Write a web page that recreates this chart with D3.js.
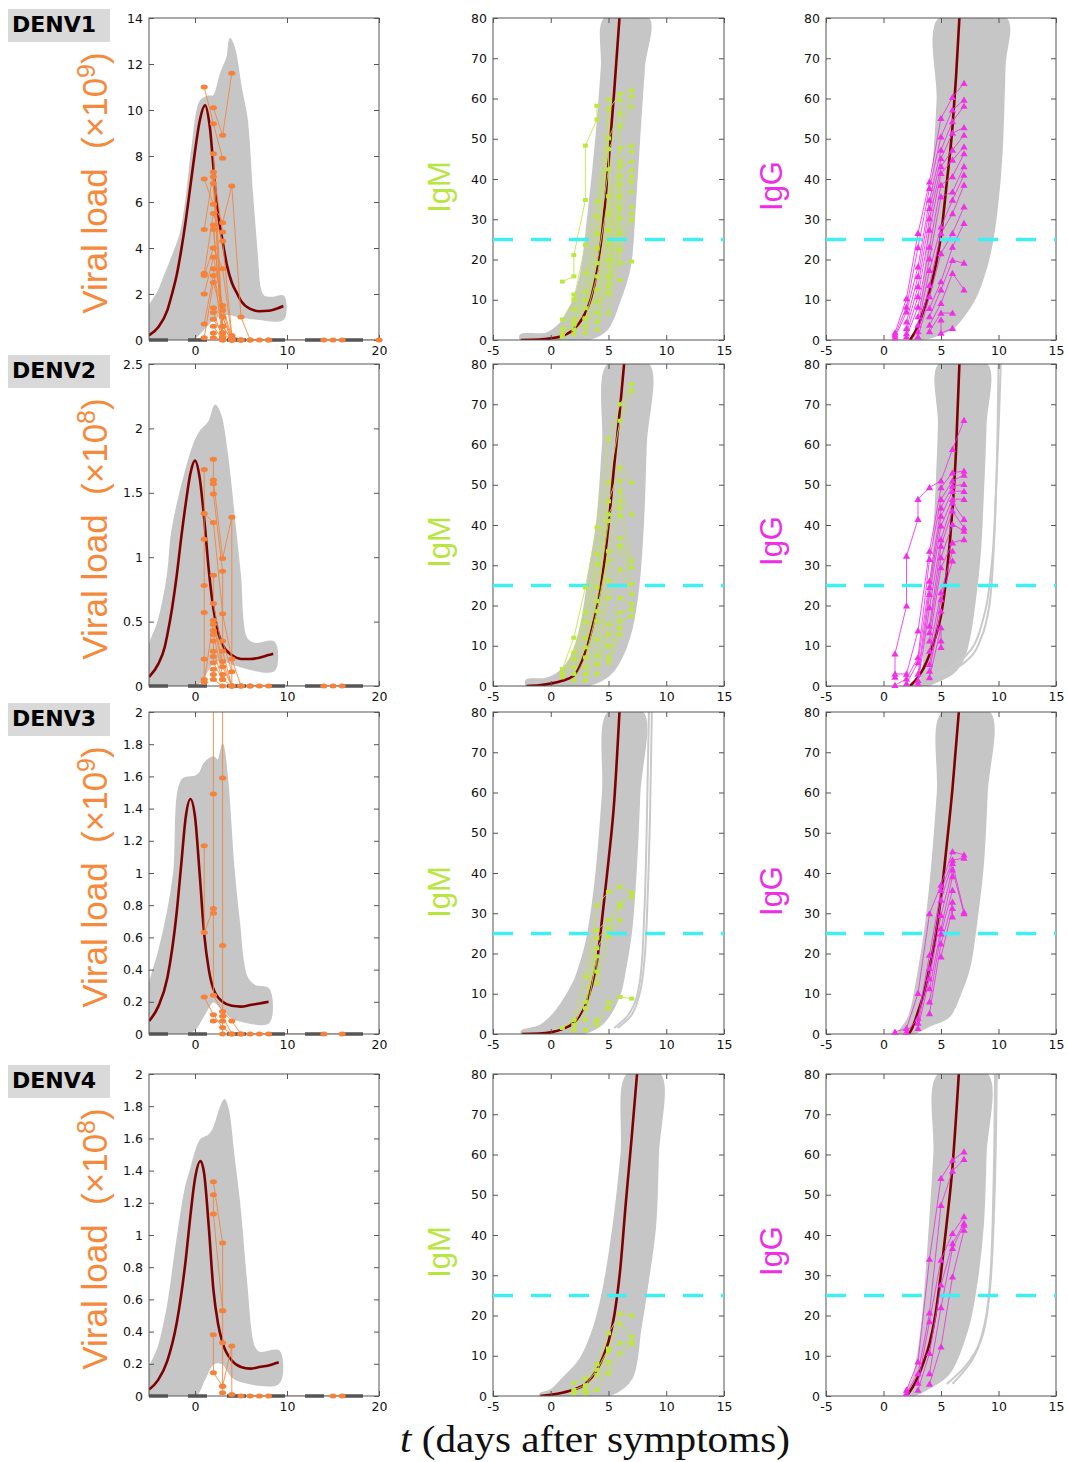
<!DOCTYPE html>
<html>
<head>
<meta charset="utf-8">
<script src="https://cdn.jsdelivr.net/npm/d3@7"></script>
<style>
  body { margin: 0; background: #fff; }
  svg text { font-family: "DejaVu Sans", sans-serif; }
</style>
</head>
<body>
<div id="chart"></div>
<script>
// ---- data ----
const serotypes = ['DENV1', 'DENV2', 'DENV3', 'DENV4'];
const viralMax = [14, 2.5, 2, 2];
const viralStep = [2, 0.5, 0.2, 0.2];
const viralExp = ['9', '8', '9', '8'];
const antibodyMax = 80;
const threshold = 25;

// mean viral load curve [t, v]
const viralMean = [
  [[-5,0.2],[-4,0.55],[-3,1.3],[-2.5,2.0],[-2,2.8],[-1.5,3.9],[-1,5.2],[-0.5,6.7],[0,8.2],[0.5,9.5],[1.1,10.2],[1.6,9.3],[2.3,6.1],[3,4.3],[3.5,3.2],[4,2.5],[4.6,2.0],[5,1.7],[6,1.35],[7,1.25],[8,1.27],[9,1.38],[9.6,1.48]],
  [[-5,0.07],[-4,0.17],[-3.3,0.3],[-3,0.4],[-2.5,0.6],[-2,0.85],[-1.5,1.15],[-1,1.42],[-0.5,1.65],[0,1.75],[0.5,1.62],[1,1.3],[1.5,0.9],[2,0.6],[2.5,0.42],[3,0.32],[4,0.24],[5,0.21],[6,0.21],[7,0.22],[8,0.24],[8.5,0.25]],
  [[-5,0.08],[-4,0.17],[-3,0.35],[-2,0.75],[-1.5,1.05],[-1,1.35],[-0.5,1.46],[0,1.35],[0.5,1.0],[1,0.62],[1.5,0.4],[2,0.28],[3,0.2],[4,0.175],[5,0.17],[6,0.18],[7,0.19],[8,0.2]],
  [[-5,0.04],[-4,0.1],[-3,0.22],[-2,0.45],[-1,0.85],[-0.5,1.12],[0,1.35],[0.6,1.46],[1,1.38],[1.5,1.05],[2,0.66],[2.5,0.45],[3,0.33],[4,0.22],[5,0.18],[6,0.17],[7,0.18],[8,0.19],[9.1,0.21]]
];
// simulated envelope: upper and lower edge [t, v]
const viralUpper = [
  [[-5,1.4],[-4,2.1],[-3.3,2.8],[-2.5,3.6],[-1.6,4.6],[-1,6],[-0.3,8.4],[0.6,10.4],[1.5,10.6],[2,10.6],[2.8,11.6],[3.5,12.3],[3.8,13.1],[4.1,12.9],[4.4,12.5],[5,11],[5.65,9.6],[6.2,6.5],[6.75,3.7],[7.1,2.2],[7.5,1.9],[8.5,1.85],[9.6,1.9]],
  [[-5,0.3],[-4,0.5],[-3,0.85],[-2.5,1.2],[-1.2,1.62],[0,1.9],[0.6,1.98],[1.5,2.05],[2.2,2.18],[2.8,2.1],[3.5,1.8],[4.2,1.35],[4.9,0.87],[5.6,0.37],[6.5,0.33],[8.6,0.34]],
  [[-5,0.29],[-4,0.5],[-3,0.75],[-2.3,1.0],[-1.4,1.58],[0,1.6],[0.5,1.62],[1,1.68],[2,1.72],[2.5,1.7],[3,1.8],[3.5,1.6],[4.2,1.04],[4.8,0.7],[5.6,0.36],[6.5,0.3],[8,0.28]],
  [[-5,0.16],[-4,0.3],[-3,0.55],[-2,0.95],[-1,1.3],[-0.5,1.4],[0.6,1.59],[1.5,1.62],[2,1.66],[2.7,1.78],[3.2,1.84],[3.6,1.78],[4.2,1.5],[4.9,1.16],[5.6,0.7],[6.4,0.31],[7,0.27],[9.1,0.28]]
];
const viralLower = [
  [[-5,0],[-1,0],[0,0.1],[1,0.5],[2,0.9],[3,1.1],[4,1.1],[5,1.0],[6,0.95],[7,0.9],[9.6,0.9]],
  [[-5,0],[0,0],[1,0.08],[2,0.18],[3,0.2],[4,0.17],[5,0.15],[6,0.13],[8.6,0.12]],
  [[-5,0],[-1,0],[0,0.03],[1,0.12],[2,0.2],[3,0.15],[4,0.1],[5,0.08],[8,0.07]],
  [[-5,0],[0,0],[1,0.1],[2,0.2],[3,0.2],[4,0.12],[5,0.09],[9.1,0.08]]
];
// patient viral load measurements, one array per patient
const viralObs = [
  [
    [[1,11.0],[2,9.4],[3,7.9]],
    [[2,10.1],[3,8.9],[4,11.6]],
    [[1,7.0],[2,5.9],[3,5.1],[4,6.7],[5,1.0],[6,0]],
    [[1,4.8],[2,7.3],[3,4.7]],
    [[1,2.9],[2,5.5],[3,4.3],[4,0.2],[5,0]],
    [[1,2.8],[2,4.0],[3,3.1],[4,0.1],[5,0],[7,0],[8,0]],
    [[1,2.0],[2,3.6],[3,1.5],[4,0.1]],
    [[1,0.7],[2,2.8],[3,1.3],[4,0]],
    [[1,0.1],[2,2.5],[3,1.0],[4,0]],
    [[2,8.1],[3,0.6],[4,0]],
    [[2,7.1],[3,0.3],[4,0]],
    [[2,6.8],[3,0.1]],
    [[2,5.0],[3,0.3]],
    [[2,4.8],[3,0.6],[4,0],[5,0],[6,0]],
    [[2,3.1],[3,0.1]],
    [[2,1.4],[3,1.0],[4,0]],
    [[2,1.2],[3,0.1]],
    [[2,0.9],[3,0.3]],
    [[2,0.6],[3,0],[5,0],[8,0],[14,0],[15,0],[16,0],[20,0]],
    [[2,0.3],[2,0.1],[3,0]]
  ],
  [
    [[1,1.68],[1,1.14],[1,0.78],[1,0.57],[1,0.21],[1,0.05]],
    [[1,1.34],[2,1.27],[3,0.56],[4,0.21],[5,0]],
    [[2,1.76],[2,1.6],[3,0.99],[4,1.31],[4,0],[5,0],[6,0]],
    [[2,1.57],[2,1.49],[3,0.89],[3,0.35],[4,0.11]],
    [[2,0.86],[2,0.64],[3,0.27],[4,0]],
    [[1,0.03],[2,0.51],[3,0.19],[4,0],[5,0],[6,0],[7,0],[8,0],[14,0],[15,0],[16,0]],
    [[2,0.48],[3,0.15],[4,0]],
    [[2,0.43],[2,0.4],[3,0.09]],
    [[2,0.35],[2,0.27],[3,0.05],[4,0]],
    [[2,0.23],[2,0.18],[3,0.05]],
    [[2,0.13],[2,0.09],[2,0.05],[3,0]]
  ],
  [
    [[1,1.17],[1,0.63],[2,0.78]],
    [[1,0.23],[2,0.12],[3,0.04],[4,0]],
    [[2,2.5],[2,1.49],[2,0.75],[2,0.24],[3,0.14],[4,0.08],[5,0]],
    [[3,2.5],[3,1.59],[3,0.55],[3,0.11],[4,0],[5,0],[6,0],[7,0],[8,0],[14,0],[16,0]],
    [[2,0.08],[3,0.08],[3,0]]
  ],
  [
    [[2,1.33],[3,0.95],[3,0.53],[3,0.33],[3,0.06],[3,0.02]],
    [[2,1.25],[2,1.13],[3,0.53]],
    [[2,0.38],[2,0.145],[3,0.06],[4,0.31],[4,0.01],[5,0],[6,0],[7,0],[8,0],[15,0],[16,0]]
  ]
];

// IgM: mean curve, envelope left/right edges, stray simulated curves, patients
const igmMean = [
  [[-2.6,0],[-1,0.1],[0,0.4],[1,1.0],[2,2.7],[3,6.8],[3.5,10.5],[4,17],[4.5,28],[5,44],[5.5,62],[5.95,80]],
  [[-2.1,0],[-1,0.15],[0,0.6],[1,1.3],[2,2.6],[3,8.5],[3.5,13.5],[4,19.8],[4.5,28],[5,40],[5.5,55],[6,69],[6.35,80]],
  [[-2.5,0],[-1,0.1],[0,0.4],[1,1.2],[2,2.8],[2.5,4.5],[3,7.2],[3.5,11.5],[4,18],[4.5,30],[5,43],[5.5,58],[5.95,80]],
  [[-0.9,0],[0,0.3],[1,0.8],[2,1.6],[3,3],[4,6.5],[4.5,9.5],[5,13.5],[5.5,20],[6,31],[6.5,48],[7,64],[7.47,80]]
];
const igmLeft = [
  [[-2.6,0],[-2.6,1.3],[-1,1.5],[-0.35,1.7],[0.8,4.1],[1.4,6.6],[1.95,9.9],[2.55,15.7],[3.25,31.5],[3.95,51],[4.4,67.7],[4.7,80]],
  [[-2.1,0],[-2.1,1.5],[-0.5,1.8],[0.5,3],[1.5,6],[2.0,9],[2.7,16.4],[3.3,28],[4.0,41],[4.5,60],[4.98,80]],
  [[-2.5,0],[-2.5,0.8],[-1,2],[0,4.3],[1,8],[2,13],[2.5,17],[3,22],[3.5,30],[4,42],[4.5,60],[5,80]],
  [[-0.9,0],[-0.9,0.6],[0,1.5],[1,4.3],[2.5,9],[3.7,16.9],[4.5,26],[5.4,42],[6.1,60],[6.65,80]]
];
const igmRight = [
  [[3.1,0],[4.84,2.5],[6.0,9.9],[6.87,18.2],[7.3,33],[7.7,51],[8.1,68],[8.45,80]],
  [[3.0,0],[4.5,1.5],[5.5,4],[6.3,8],[7,14],[7.6,24.5],[8,40],[8.25,60],[8.45,80]],
  [[2.6,0],[4,1.5],[5,4.3],[6,10],[6.5,16.7],[7,26],[7.4,41.6],[7.7,60],[7.95,80]],
  [[4,0],[5.4,0.5],[7,4.3],[7.8,16.9],[8.4,28],[9.05,42],[9.3,60],[9.45,80]]
];
const igmStray = [
  [],
  [],
  [[[5.5,1.5],[6.5,4],[7.3,8],[7.8,15],[8.1,30],[8.3,50],[8.5,80]],
   [[5.8,1.5],[6.8,4],[7.6,9],[8.1,18],[8.4,35],[8.6,55],[8.75,80]]],
  []
];
const igmObs = [
  [
    [[1,14.5],[2,15.8],[2,21.1],[3,34.8],[3,48.3],[4,54.8],[4,58.2]],
    [[1,5.1],[2,10.1],[3,23.6],[4,34.4],[5,57.3],[6,61.1],[7,62.0]],
    [[1,2.8],[2,7.6],[3,16.6],[4,30.7],[5,50.1],[6,56.3],[7,60.5]],
    [[1,1.6],[2,5.1],[3,12.0],[4,26.5],[5,47.4],[6,53.0],[7,58.0]],
    [[1,0.8],[2,3.9],[3,10.0],[4,22.8],[5,42.4],[6,47.6],[7,48.3]],
    [[2,2.6],[3,7.9],[4,19.1],[5,35.7],[6,44.3],[7,46.8]],
    [[2,1.4],[3,5.4],[4,15.8],[5,31.4],[6,43.0],[7,44.3]],
    [[2,11.3],[3,3.3],[4,12.5],[5,27.3],[6,40.6],[7,42.2]],
    [[3,1.7],[4,9.6],[5,24.0],[6,38.5],[7,40.6]],
    [[4,6.7],[5,19.8],[6,35.6],[7,39.3]],
    [[4,4.6],[5,15.8],[6,32.7],[7,36.8]],
    [[4,2.6],[5,13.6],[6,30.2],[7,33.1]],
    [[5,59.8],[5,11.6],[6,26.5],[7,31.4]],
    [[5,6.7],[6,22.4],[7,29.8]],
    [[6,59.6],[6,19.1],[7,19.5]],
    [[6,14.9]]
  ],
  [
    [[1,4.2],[2,12.0],[3,24.5],[4,39.4],[5,61.3],[6,70.0],[7,75.0]],
    [[1,3.0],[2,8.3],[3,18.3],[4,32.8],[5,50.5],[6,65.9],[7,73.3]],
    [[1,2.2],[2,6.7],[3,15.8],[4,30.3],[5,45.9],[6,54.3],[7,50.5]],
    [[2,4.6],[3,12.0],[4,24.5],[5,42.6],[6,48.5],[7,42.6]],
    [[2,3.0],[3,9.6],[4,21.1],[5,41.0],[6,45.9]],
    [[2,1.4],[3,7.1],[4,18.6],[5,33.5],[6,44.3],[7,31.1]],
    [[3,4.6],[4,16.1],[5,31.1],[6,36.8],[7,29.4]],
    [[3,3.0],[4,11.5],[5,26.1],[6,34.8],[7,25.3]],
    [[3,1.4],[4,7.5],[5,21.9],[6,29.0],[7,22.8]],
    [[4,5.4],[5,15.3],[6,21.9],[7,20.3]],
    [[4,3.0],[5,12.8],[6,18.3],[7,19.0]],
    [[5,9.9],[6,16.1],[7,17.4]],
    [[5,7.1],[6,14.5]],
    [[5,5.8],[6,12.8]],
    [[6,51.0],[6,42.2]]
  ],
  [
    [[1,1.5],[2,3.5],[3,14.3],[4,32.0],[5,35.3],[6,36.6],[7,35.1]],
    [[2,2.3],[3,8.0],[4,25.8],[5,28.3],[6,32.5],[7,34.1]],
    [[2,1.0],[3,6.4],[4,21.3],[5,26.3],[6,31.6]],
    [[3,3.5],[4,19.3],[4,15.5],[4,12.6],[5,24.2],[6,28.3]],
    [[3,1.0],[4,3.5],[4,2.3],[5,8.0],[5,6.4],[6,9.2],[7,8.8]],
    [[4,23.8],[5,26.3]]
  ],
  [
    [[2,3.2],[3,4.4],[4,7.9],[5,15.6],[6,20.5],[7,20.0]],
    [[2,1.5],[3,2.7],[4,6.5],[5,11.8],[6,18.0],[7,14.8]],
    [[2,0.7],[3,1.5],[4,5.2],[5,11.0],[6,13.1],[7,13.5]],
    [[3,0.7],[4,1.5],[5,8.5],[5,5.6],[6,10.6],[7,12.9]]
  ]
];

// IgG
const iggMean = [
  [[2.3,0],[3,3.5],[3.5,7.5],[4,12],[4.5,18],[5,26],[5.5,39],[6,53],[6.3,65],[6.6,80]],
  [[2.3,0],[3,2.2],[3.5,4.5],[4,7.8],[4.5,12],[5,17.5],[5.5,28],[6,44],[6.3,58],[6.6,80]],
  [[2.2,0],[2.5,1.5],[3,5.5],[3.5,10],[4,16.5],[4.5,24],[5,34],[5.5,47],[6,61],[6.55,80]],
  [[2,0],[2.5,2],[3,4.8],[3.5,8.5],[4,13],[4.5,20],[5,30.5],[5.5,43],[6,57],[6.55,80]]
];
const iggLeft = [
  [[2.3,0],[2.9,2],[3.3,9.9],[3.6,18],[3.9,26.5],[4.33,43],[4.68,59.6],[4.86,80]],
  [[2.3,0],[3.2,1.5],[3.57,12.4],[4.0,22],[4.29,33],[4.6,50],[4.8,65],[4.86,80]],
  [[1.3,0],[2.2,4.3],[3.1,16.7],[3.7,28],[4.2,41.6],[4.7,60],[5.15,80]],
  [[1.8,0],[2.55,4.3],[3.3,16.9],[4.0,42],[4.4,60],[4.8,80]]
];
const iggRight = [
  [[2.6,0],[4,0.5],[5,1.5],[6,2.8],[7,6],[8,10.5],[9,18.5],[9.5,25],[10,36],[10.3,47],[10.55,68],[10.65,80]],
  [[3.7,0],[5,1.5],[6.1,3.3],[7,7],[7.5,12.4],[8,22],[8.4,33],[8.7,50],[8.9,65],[8.97,80]],
  [[2.5,0],[4,2],[5.7,4.3],[6.7,10],[7.5,16.7],[8.1,28],[8.65,41.6],[9.0,60],[9.2,80]],
  [[2.5,0],[4,2],[5.7,5.5],[7.35,16.9],[8.1,28],[8.65,42],[8.9,60],[9.0,80]]
];
const iggStray = [
  [],
  [[[4,2],[6,4],[7.5,7],[8.5,12],[9.2,20],[9.6,35],[9.85,55],[10.0,80]],
   [[4,2.5],[6,5],[7.6,9],[8.7,17],[9.4,30],[9.8,50],[10.2,80]]],
  [],
  [[[5.5,3],[7,7],[8,11],[8.8,18],[9.3,30],[9.55,50],[9.7,80]],
   [[6,3],[7.5,8],[8.5,14],[9.2,25],[9.6,45],[9.85,80]]]
];
const iggObs = [
  [
    [[1,1.8],[2,10.3],[3,26.5],[4,39.3],[5,55.1],[6,60.3],[7,63.8]],
    [[1,1.2],[2,8.2],[3,23.0],[4,37.7],[5,50.5],[6,57.2],[7,59.6]],
    [[1,0.6],[2,7.0],[3,18.2],[4,34.8],[5,47.2],[6,54.3],[7,58.1]],
    [[2,4.5],[3,15.8],[4,32.7],[5,45.1],[6,51.4],[7,52.8]],
    [[2,2.9],[3,13.3],[4,30.2],[5,43.1],[6,47.2],[7,50.9]],
    [[2,1.6],[3,10.8],[4,27.3],[5,41.4],[6,44.7],[7,48.0]],
    [[2,0.8],[3,8.2],[4,23.1],[5,38.5],[6,40.6],[7,46.3]],
    [[3,5.8],[4,20.2],[5,35.6],[6,36.8],[7,43.1]],
    [[3,3.7],[4,17.3],[5,28.1],[6,34.8],[7,41.0]],
    [[3,2.1],[4,13.6],[5,26.5],[6,31.4],[7,38.5]],
    [[3,0.8],[4,10.8],[5,21.5],[6,26.5],[7,33.1]],
    [[4,7.9],[5,14.5],[6,23.1],[7,29.0]],
    [[4,5.8],[5,12.5],[6,19.8],[7,19.1]],
    [[4,3.7],[5,9.1],[6,16.6],[7,12.5]],
    [[4,2.1],[5,6.7],[6,6.7]],
    [[5,5.0],[5,1.7],[6,2.9]]
  ],
  [
    [[1,2.2],[1,8.0],[2,19.9],[2,32.3],[3,41.4],[3,46.4],[4,49.3],[5,51.0],[6,58.8],[7,66.0]],
    [[1,3.0],[2,3.0],[3,13.7],[4,33.5],[5,49.3],[6,53.0],[7,53.4]],
    [[1,0.2],[2,1.8],[3,7.1],[4,31.5],[5,46.4],[6,51.0],[7,52.4]],
    [[2,0.6],[3,5.8],[4,26.1],[5,44.3],[6,49.7],[7,50.1]],
    [[3,3.0],[4,24.5],[5,42.2],[6,48.4],[7,48.4]],
    [[3,1.4],[4,22.8],[5,39.8],[6,46.4],[7,46.4]],
    [[3,0.6],[4,19.5],[5,36.4],[6,45.5],[7,41.4]],
    [[4,14.9],[5,34.8],[6,43.5],[7,39.3]],
    [[4,13.3],[5,31.9],[6,40.2],[7,38.5]],
    [[4,11.2],[5,29.4],[6,35.6],[7,36.4]],
    [[4,8.7],[5,23.2],[6,33.5]],
    [[4,5.4],[5,21.5],[6,31.1]],
    [[4,3.7],[5,18.6]],
    [[4,2.1],[5,14.5],[5,11.2],[5,9.6]]
  ],
  [
    [[1,0.5],[2,1.4],[3,10.1],[4,29.9],[5,37.0],[6,45.3],[7,44.5]],
    [[2,0.5],[3,3.9],[4,19.6],[5,35.7],[6,43.2],[7,43.7]],
    [[3,2.7],[4,16.3],[5,33.3],[6,42.4],[7,30.3]],
    [[3,1.4],[4,13.8],[5,29.5],[6,40.8],[7,29.9]],
    [[4,11.3],[5,26.2],[6,39.1]],
    [[4,8.0],[5,24.9],[6,35.7]],
    [[4,5.1],[5,22.4],[6,32.8]],
    [[5,19.2],[6,31.2],[6,29.1]]
  ],
  [
    [[2,1.5],[3,8.5],[4,34.0],[5,54.1],[6,58.6],[7,60.7]],
    [[2,0.7],[3,5.6],[4,20.7],[5,47.4],[6,55.9],[7,58.8]],
    [[3,3.2],[4,18.5],[5,33.8],[6,40.4],[7,44.6]],
    [[3,1.5],[4,10.6],[5,27.6],[6,37.9],[7,42.9]],
    [[4,5.6],[5,22.0],[6,36.7],[7,42.5]],
    [[4,3.0],[5,12.2],[6,29.6],[7,41.2]]
  ]
];

// ---- layout ----
const W = 1068, H = 1462;
const rowTop = [18, 364, 712, 1074];
const panelH = 322;
const cols = { viral: [149, 379], igm: [493, 724], igg: [826, 1056] };
const labelShift = [8, 17, 19, 17];

const C = {
  env: '#c6c6c6', mean: '#800000', cyan: '#3ff0f2', base: '#555',
  orange: '#f5823a', green: '#bde73f', magenta: '#f030e6', frame: '#555'
};

const svg = d3.select('#chart').append('svg')
  .attr('width', W).attr('height', H);
const defs = svg.append('defs');

const fmt = d => String(+d.toFixed(1));

function panel(row, kind) {
  const [x0, x1] = cols[kind];
  const top = rowTop[row];
  const bottom = top + panelH;
  const isViral = kind === 'viral';
  const yMax = isViral ? viralMax[row] : antibodyMax;
  const x = d3.scaleLinear().domain(isViral ? [-5, 20] : [-5, 15]).range([x0, x1]);
  const y = d3.scaleLinear().domain([0, yMax]).range([bottom, top]);
  const line = d3.line().x(d => x(d[0])).y(d => y(d[1]));

  const id = `clip-${kind}-${row}`;
  defs.append('clipPath').attr('id', id).append('rect')
    .attr('x', x0).attr('y', top).attr('width', x1 - x0).attr('height', panelH);

  const g = svg.append('g').attr('class', `panel ${kind}`);
  const plot = g.append('g').attr('clip-path', `url(#${id})`);

  // envelope of simulated curves
  let outline, stray, mean, obs, col;
  if (isViral) {
    outline = viralUpper[row].concat(viralLower[row].slice().reverse());
    stray = [];
    mean = viralMean[row];
    obs = viralObs[row];
    col = C.orange;
  } else {
    const L = kind === 'igm' ? igmLeft : iggLeft;
    const R = kind === 'igm' ? igmRight : iggRight;
    outline = L[row].concat(R[row].slice().reverse());
    stray = (kind === 'igm' ? igmStray : iggStray)[row];
    mean = (kind === 'igm' ? igmMean : iggMean)[row];
    obs = (kind === 'igm' ? igmObs : iggObs)[row];
    col = kind === 'igm' ? C.green : C.magenta;
  }

  plot.append('path')
    .attr('d', d3.line().x(d => x(d[0])).y(d => y(d[1])).curve(d3.curveCatmullRomClosed.alpha(0.5))(outline))
    .attr('fill', C.env).attr('stroke', C.env).attr('stroke-width', 1.5);

  plot.selectAll('.stray').data(stray).join('path')
    .attr('class', 'stray')
    .attr('d', d3.line().x(d => x(d[0])).y(d => y(d[1])).curve(d3.curveMonotoneY))
    .attr('fill', 'none').attr('stroke', '#c9c9c9').attr('stroke-width', 2);

  // frame
  g.append('rect').attr('x', x0).attr('y', top).attr('width', x1 - x0).attr('height', panelH)
    .attr('fill', 'none').attr('stroke', C.frame).attr('stroke-width', 1);

  // axes, ticks pointing inward on all four sides
  const yTicks = d3.range(0, yMax + 1e-9, isViral ? viralStep[row] : 10);
  const xTicks = isViral ? [0, 10, 20] : [-5, 0, 5, 10, 15];
  const axes = [
    g.append('g').attr('transform', `translate(${x0},0)`)
      .call(d3.axisLeft(y).tickValues(yTicks).tickSize(-5).tickPadding(6).tickFormat(fmt)),
    g.append('g').attr('transform', `translate(${x1},0)`)
      .call(d3.axisRight(y).tickValues(yTicks).tickSize(-5).tickFormat('')),
    g.append('g').attr('transform', `translate(0,${bottom})`)
      .call(d3.axisBottom(x).tickValues(xTicks).tickSize(-5).tickPadding(6).tickFormat(d => String(d))),
    g.append('g').attr('transform', `translate(0,${top})`)
      .call(d3.axisTop(x).tickValues(xTicks).tickSize(-5).tickFormat(''))
  ];
  axes.forEach(a => {
    a.attr('font-family', 'DejaVu Sans, sans-serif').attr('font-size', 12.5);
    a.select('.domain').remove();
    a.selectAll('line').attr('stroke', C.frame);
    a.selectAll('text').attr('fill', '#111');
  });

  if (isViral) {
    // undetectable level marked along zero
    g.append('line').attr('x1', x0).attr('x2', x1).attr('y1', y(0)).attr('y2', y(0))
      .attr('stroke', C.base).attr('stroke-width', 3.5).attr('stroke-dasharray', '19,20');
  } else {
    g.append('line').attr('x1', x0).attr('x2', x1).attr('y1', y(threshold)).attr('y2', y(threshold))
      .attr('stroke', C.cyan).attr('stroke-width', 3.5).attr('stroke-dasharray', '20,18');
  }

  plot.append('path').attr('d', line.curve(d3.curveMonotoneX)(mean))
    .attr('fill', 'none').attr('stroke', C.mean).attr('stroke-width', 2.6);

  // patients: lines then markers
  const lineObs = d3.line().x(d => x(d[0])).y(d => y(d[1]));
  plot.selectAll('.obs').data(obs).join('path')
    .attr('class', 'obs')
    .attr('d', lineObs)
    .attr('fill', 'none').attr('stroke', col).attr('stroke-width', 1).attr('stroke-opacity', 0.85);

  const pts = obs.flat().filter(d => d[1] <= yMax);
  const mk = g.append('g').selectAll('.mk').data(pts).join(
    kind === 'viral' ? 'ellipse' : kind === 'igm' ? 'rect' : 'path');
  if (kind === 'viral') {
    mk.attr('cx', d => x(d[0])).attr('cy', d => y(d[1])).attr('rx', 3.6).attr('ry', 2.5);
  } else if (kind === 'igm') {
    mk.attr('x', d => x(d[0]) - 2.5).attr('y', d => y(d[1]) - 2).attr('width', 5).attr('height', 4);
  } else {
    mk.attr('d', d => `M${x(d[0])},${y(d[1]) - 3.5}l3.6,6.2h-7.2z`);
  }
  mk.attr('fill', col);
}

serotypes.forEach((name, row) => {
  ['viral', 'igm', 'igg'].forEach(kind => panel(row, kind));

  const top = rowTop[row];
  const mid = top + panelH / 2;

  svg.append('rect').attr('x', 8).attr('y', top - 9).attr('width', 102).attr('height', 33)
    .attr('fill', '#d9d9d9');
  svg.append('text').attr('x', 12).attr('y', top + 14)
    .attr('font-size', 22).attr('font-weight', 'bold').attr('fill', '#000')
    .text(name);

  const vl = svg.append('text')
    .attr('transform', `translate(107,${mid + 4}) rotate(-90)`)
    .attr('text-anchor', 'middle')
    .style('font-family', '"Liberation Sans", Arial, sans-serif')
    .style('font-size', '35px')
    .attr('fill', '#f68a3c');
  vl.append('tspan').text('Viral load\u00a0\u00a0(\u00d710');
  vl.append('tspan').attr('dy', -12).style('font-size', '25px').text(viralExp[row]);
  vl.append('tspan').attr('dy', 12).text(')');

  svg.append('text')
    .attr('transform', `translate(450,${mid + labelShift[row]}) rotate(-90)`)
    .attr('text-anchor', 'middle')
    .style('font-family', '"Liberation Sans", Arial, sans-serif')
    .style('font-size', '31px')
    .attr('fill', '#b7e63e')
    .text('IgM');

  svg.append('text')
    .attr('transform', `translate(782,${mid + labelShift[row] - 1}) rotate(-90)`)
    .attr('text-anchor', 'middle')
    .style('font-family', '"Liberation Sans", Arial, sans-serif')
    .style('font-size', '31px')
    .attr('fill', '#ee2ee6')
    .text('IgG');
});

const xl = svg.append('text')
  .attr('x', 595).attr('y', 1452).attr('text-anchor', 'middle')
  .style('font-family', '"Liberation Serif", "DejaVu Serif", serif')
  .style('font-size', '37px').attr('fill', '#111')
  .attr('textLength', 390).attr('lengthAdjust', 'spacingAndGlyphs');
xl.append('tspan').style('font-style', 'italic').text('t');
xl.append('tspan').text(' (days after symptoms)');
</script>
</body>
</html>
